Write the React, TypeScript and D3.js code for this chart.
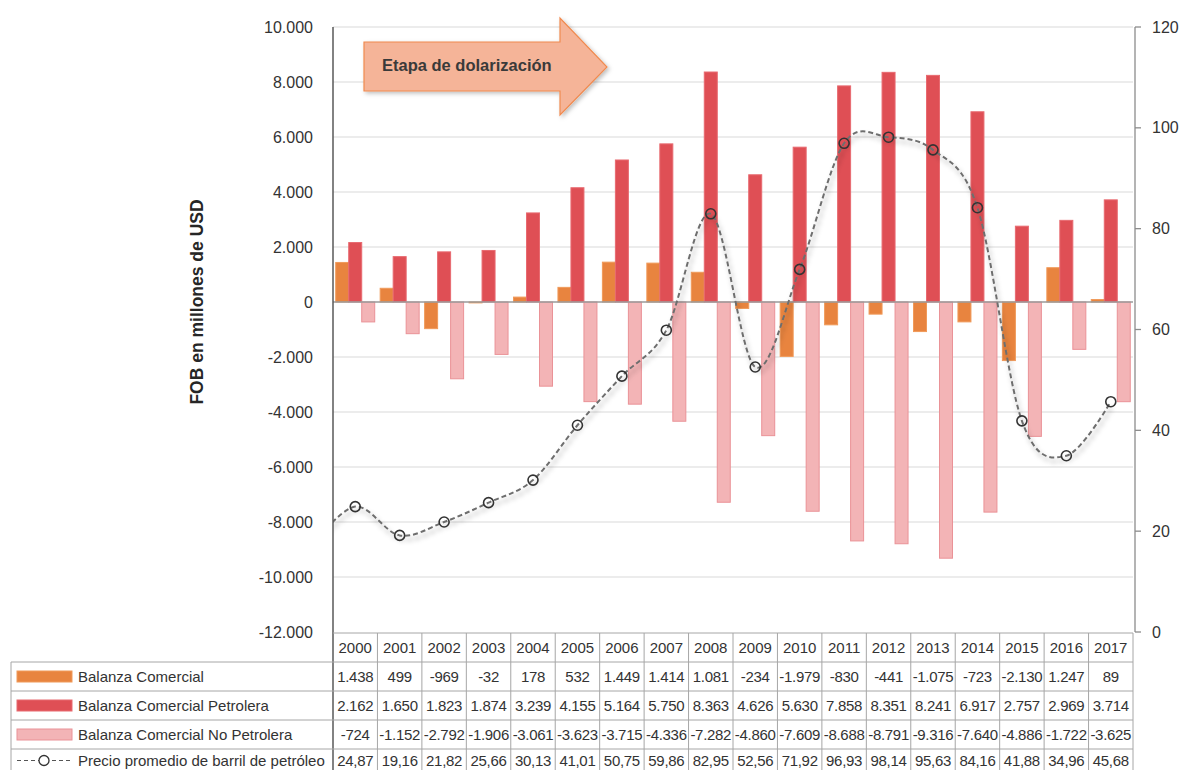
import React, { useEffect, useRef } from "react";
import * as d3 from "d3";

const years = ["2000", "2001", "2002", "2003", "2004", "2005", "2006", "2007", "2008", "2009", "2010", "2011", "2012", "2013", "2014", "2015", "2016", "2017"];
const balanza = [1438, 499, -969, -32, 178, 532, 1449, 1414, 1081, -234, -1979, -830, -441, -1075, -723, -2130, 1247, 89];
const petrolera = [2162, 1650, 1823, 1874, 3239, 4155, 5164, 5750, 8363, 4626, 5630, 7858, 8351, 8241, 6917, 2757, 2969, 3714];
const noPetrolera = [-724, -1152, -2792, -1906, -3061, -3623, -3715, -4336, -7282, -4860, -7609, -8688, -8791, -9316, -7640, -4886, -1722, -3625];
const precio = [24.87, 19.16, 21.82, 25.66, 30.13, 41.01, 50.75, 59.86, 82.95, 52.56, 71.92, 96.93, 98.14, 95.63, 84.16, 41.88, 34.96, 45.68];
// year before the first column: the smoothed line enters from the left edge
const precioPrevio = 17;

const seriesNames = ["Balanza Comercial", "Balanza Comercial Petrolera", "Balanza Comercial No Petrolera"];
const precioName = "Precio promedio de barril de petróleo";
const leftTicks = [10000, 8000, 6000, 4000, 2000, 0, -2000, -4000, -6000, -8000, -10000, -12000];
const rightTicks = [0, 20, 40, 60, 80, 100, 120];

const fills = ["#e8843f", "#df4f55", "#f3b4b6"];
const strokes = ["#f09a5a", "#e86a70", "#ea9297"];
const FONT = "'Liberation Sans', Arial, sans-serif";

const locale = d3.formatLocale({ decimal: ",", thousands: ".", grouping: [3], currency: ["$", ""], minus: "-" });
const fmtInt = locale.format(",");
const fmtDec = locale.format(",.2f");

export default function App() {
  const ref = useRef<SVGSVGElement>(null);

  useEffect(() => {
    const svg = d3.select(ref.current);
    svg.selectAll("*").remove();

    const left = 333, right = 1133, top = 27, bottom = 632;
    const x = d3.scaleBand().domain(years).range([left, right]);
    const bw = x.bandwidth();
    const xs = d3.scaleBand().domain(["0", "1", "2"]).range([0, bw]).paddingOuter(0.21);
    const yL = d3.scaleLinear().domain([-12000, 10000]).range([bottom, top]);
    const yR = d3.scaleLinear().domain([0, 120]).range([bottom, top]);

    const defs = svg.append("defs");
    defs.append("clipPath").attr("id", "plot").append("rect")
      .attr("x", left).attr("y", top).attr("width", right - left).attr("height", bottom - top);
    const sh = defs.append("filter").attr("id", "shadow").attr("x", "-10%").attr("y", "-10%").attr("width", "130%").attr("height", "140%");
    sh.append("feDropShadow").attr("dx", 2).attr("dy", 4).attr("stdDeviation", 2.5)
      .attr("flood-color", "#000").attr("flood-opacity", 0.35);
    const ash = defs.append("filter").attr("id", "ashadow").attr("x", "-10%").attr("y", "-10%").attr("width", "130%").attr("height", "130%");
    ash.append("feDropShadow").attr("dx", 2).attr("dy", 2).attr("stdDeviation", 2)
      .attr("flood-color", "#000").attr("flood-opacity", 0.25);

    // gridlines
    svg.append("g").selectAll("line").data(leftTicks.filter((t) => t !== -12000 && t !== 0)).join("line")
      .attr("x1", left).attr("x2", right)
      .attr("y1", (d) => yL(d)).attr("y2", (d) => yL(d))
      .attr("stroke", "#d9d9d9").attr("stroke-width", 1.2);

    // left tick labels
    svg.append("g").selectAll("text").data(leftTicks).join("text")
      .attr("x", 313).attr("y", (d) => yL(d)).attr("dy", "0.35em")
      .attr("text-anchor", "end").attr("font-family", FONT).attr("font-size", 16).attr("fill", "#333")
      .text((d) => fmtInt(d));

    svg.append("text")
      .attr("transform", `translate(203,${yL(0)}) rotate(-90)`)
      .attr("text-anchor", "middle").attr("font-family", FONT).attr("font-size", 17.5)
      .attr("font-weight", "bold").attr("fill", "#262626")
      .text("FOB en millones de USD");

    // bars
    const all = [balanza, petrolera, noPetrolera];
    all.forEach((vals, si) => {
      svg.append("g").selectAll("rect").data(vals).join("rect")
        .attr("x", (_, i) => (x(years[i]) as number) + (xs(String(si)) as number))
        .attr("width", xs.bandwidth())
        .attr("y", (d) => yL(Math.max(0, d)))
        .attr("height", (d) => Math.abs(yL(d) - yL(0)))
        .attr("fill", fills[si]).attr("stroke", strokes[si]).attr("stroke-width", 1);
    });

    // zero line above the bars
    svg.append("line").attr("x1", left).attr("x2", right).attr("y1", yL(0)).attr("y2", yL(0))
      .attr("stroke", "#9a9a9a").attr("stroke-width", 1.3);

    // price line
    const pts: [number, number][] = [[(x(years[0]) as number) - bw / 2, yR(precioPrevio)]];
    precio.forEach((p, i) => pts.push([(x(years[i]) as number) + bw / 2, yR(p)]));
    const line = d3.line().curve(d3.curveCardinal.tension(0));
    const lg = svg.append("g").attr("clip-path", "url(#plot)");
    lg.append("path").attr("d", line(pts)).attr("fill", "none")
      .attr("stroke", "#6e6e6e").attr("stroke-width", 2).attr("stroke-dasharray", "5,3")
      .attr("filter", "url(#shadow)");
    lg.selectAll("circle").data(precio).join("circle")
      .attr("cx", (_, i) => (x(years[i]) as number) + bw / 2)
      .attr("cy", (d) => yR(d)).attr("r", 5)
      .attr("fill", "none").attr("stroke", "#333").attr("stroke-width", 1.6);

    // axes lines
    svg.append("line").attr("x1", left).attr("x2", left).attr("y1", top).attr("y2", 770)
      .attr("stroke", "#595959").attr("stroke-width", 1.5);
    svg.append("line").attr("x1", right + 2).attr("x2", right + 2).attr("y1", top).attr("y2", bottom)
      .attr("stroke", "#8c8c8c").attr("stroke-width", 1.3);
    const rg = svg.append("g").selectAll("g").data(rightTicks).join("g");
    rg.append("line").attr("x1", right + 2).attr("x2", right + 8)
      .attr("y1", (d) => yR(d)).attr("y2", (d) => yR(d)).attr("stroke", "#8c8c8c").attr("stroke-width", 1.3);
    rg.append("text").attr("x", right + 19).attr("y", (d) => yR(d)).attr("dy", "0.35em")
      .attr("font-family", FONT).attr("font-size", 16).attr("fill", "#333").text((d) => d);

    // arrow annotation
    const ag = svg.append("g");
    ag.append("path")
      .attr("d", "M364,42 L560,42 L560,18 L607,67 L560,115 L560,91 L364,91 Z")
      .attr("fill", "#f5b498").attr("stroke", "#f08a4f").attr("stroke-width", 1.2)
      .attr("filter", "url(#ashadow)");
    ag.append("text").attr("x", 382).attr("y", 71)
      .attr("font-family", FONT).attr("font-size", 16.5).attr("font-weight", "bold").attr("fill", "#3a3a3a")
      .text("Etapa de dolarización");

    // data table
    const rowH = 29;
    const rowTop = (r: number) => bottom + 1 + r * rowH;
    const tg = svg.append("g");
    const grid = "#a6a6a6";
    tg.append("line").attr("x1", left).attr("x2", right).attr("y1", rowTop(0)).attr("y2", rowTop(0)).attr("stroke", grid);
    for (let r = 1; r <= 4; r++) {
      tg.append("line").attr("x1", 11).attr("x2", right).attr("y1", rowTop(r)).attr("y2", rowTop(r)).attr("stroke", grid);
    }
    tg.append("line").attr("x1", 11).attr("x2", 11).attr("y1", rowTop(1)).attr("y2", 770).attr("stroke", grid);
    years.forEach((yr) => {
      const xr = (x(yr) as number) + bw;
      tg.append("line").attr("x1", xr).attr("x2", xr).attr("y1", rowTop(0)).attr("y2", 770).attr("stroke", grid);
    });
    tg.selectAll("text.yr").data(years).join("text").attr("class", "yr")
      .attr("x", (d) => (x(d) as number) + bw / 2).attr("y", rowTop(0) + rowH / 2).attr("dy", "0.35em")
      .attr("text-anchor", "middle").attr("font-family", FONT).attr("font-size", 15).attr("fill", "#333")
      .text((d) => d);
    const rows = [balanza.map(fmtInt), petrolera.map(fmtInt), noPetrolera.map(fmtInt), precio.map(fmtDec)];
    rows.forEach((vals, r) => {
      // last row sits at the page's bottom edge, nudged up so its text stays whole
      const cy = rowTop(r + 1) + rowH / 2 - (r === 3 ? 3 : 0);
      tg.append("g").selectAll("text").data(vals).join("text")
        .attr("x", (_, i) => (x(years[i]) as number) + bw / 2).attr("y", cy).attr("dy", "0.35em")
        .attr("text-anchor", "middle").attr("font-family", FONT).attr("font-size", 15)
        .attr("letter-spacing", -0.3).attr("fill", "#333").text((d) => d);
      if (r < 3) {
        tg.append("rect").attr("x", 17).attr("y", cy - 5.5).attr("width", 55).attr("height", 11)
          .attr("fill", fills[r]).attr("stroke", strokes[r]);
      } else {
        tg.append("line").attr("x1", 17).attr("x2", 72).attr("y1", cy).attr("y2", cy)
          .attr("stroke", "#555").attr("stroke-width", 1.2).attr("stroke-dasharray", "4,3");
        tg.append("circle").attr("cx", 44).attr("cy", cy).attr("r", 5).attr("fill", "#fff")
          .attr("stroke", "#333").attr("stroke-width", 1.3);
      }
      tg.append("text").attr("x", 78).attr("y", cy).attr("dy", "0.35em")
        .attr("font-family", FONT).attr("font-size", 15).attr("fill", "#333")
        .text(r < 3 ? seriesNames[r] : precioName);
    });
  }, []);

  return (
    <svg ref={ref} width={1194} height={770}
      style={{ position: "absolute", left: 0, top: 0, background: "#fff" }} />
  );
}
